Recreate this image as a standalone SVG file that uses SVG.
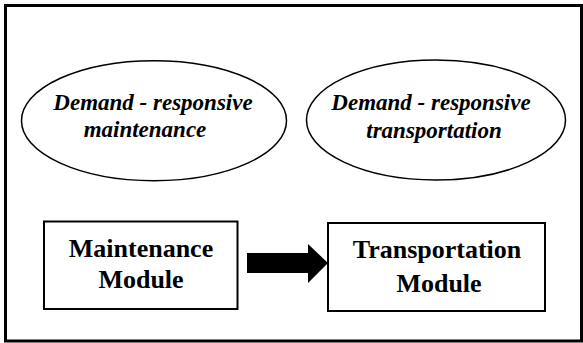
<svg xmlns="http://www.w3.org/2000/svg" width="583" height="343" viewBox="0 0 583 343">
  <style>
    .frame { fill: #fff; stroke: #000; stroke-width: 3; }
    .oval { fill: #fff; stroke: #000; stroke-width: 1.5; }
    .box { fill: #fff; stroke: #000; stroke-width: 2; }
    text { font-family: 'Times New Roman', 'Liberation Serif', Times, serif; fill: #000; text-anchor: middle; }
    .it { font-style: italic; font-weight: 700; font-size: 23px; }
    .bd { font-weight: 700; font-size: 26px; }
  </style>
  <rect width="583" height="343" fill="#fff"/>
  <rect id="frame" class="frame" x="5.5" y="5.5" width="576" height="335.5"/>

  <g id="demand-maintenance">
    <ellipse class="oval" cx="154" cy="120.7" rx="132.5" ry="60"/>
    <text class="it" x="153" y="110">Demand - responsive</text>
    <text class="it" x="145" y="137">maintenance</text>
  </g>

  <g id="demand-transportation">
    <ellipse class="oval" cx="436" cy="120" rx="129.5" ry="60"/>
    <text class="it" x="431" y="110">Demand - responsive</text>
    <text class="it" x="434" y="138">transportation</text>
  </g>

  <g id="maintenance-module">
    <rect class="box" x="44" y="221.5" width="193.5" height="87.5"/>
    <text class="bd" x="141" y="257">Maintenance</text>
    <text class="bd" x="141" y="288">Module</text>
  </g>

  <g id="transportation-module">
    <rect class="box" x="328" y="223" width="217" height="88"/>
    <text class="bd" x="437" y="258">Transportation</text>
    <text class="bd" x="439" y="292">Module</text>
  </g>

  <g id="connectors">
    <polygon points="247,253 308,253 308,244 328,263 308,283 308,273 247,273" fill="#000"/>
  </g>
</svg>
